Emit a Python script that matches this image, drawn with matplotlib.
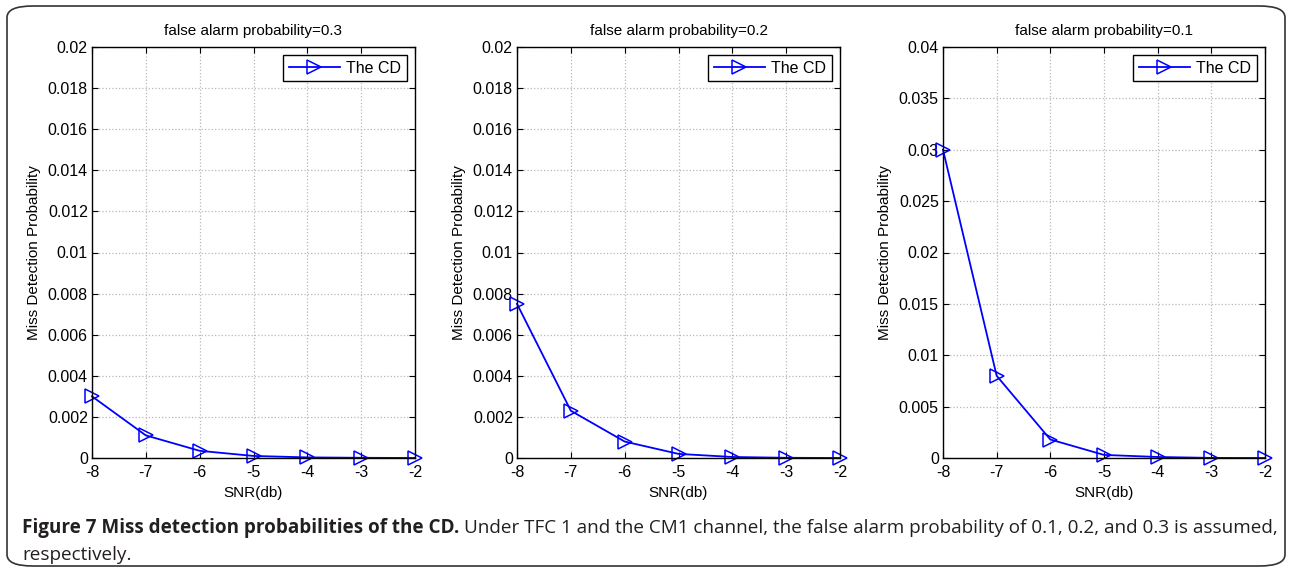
import numpy as np
import matplotlib.pyplot as plt
from matplotlib.patches import FancyBboxPatch

# data
snr = [-8, -7, -6, -5, -4, -3, -2]
pf_titles = ["false alarm probability=0.3",
             "false alarm probability=0.2",
             "false alarm probability=0.1"]
pm_03 = [0.0030, 0.0011, 0.00035, 0.0001, 0.00003, 0.00001, 0.0]
pm_02 = [0.0075, 0.0023, 0.0008, 0.0002, 0.00005, 0.00001, 0.0]
pm_01 = [0.0300, 0.0080, 0.0018, 0.0003, 0.0001, 0.00001, 0.0]
series = [pm_03, pm_02, pm_01]
ymax = [0.02, 0.02, 0.04]
ystep = [0.002, 0.002, 0.005]

plt.rcParams['font.family'] = ['Liberation Sans', 'DejaVu Sans']
plt.rcParams['axes.unicode_minus'] = False
fs = 11.5

W, H = 1291, 572
fig = plt.figure(figsize=(W / 100, H / 100), dpi=100)

# axes boxes in pixels (left, top, right, bottom)
boxes = [(92, 47, 415, 458), (517, 47, 840, 458), (943, 47, 1265, 458)]

for (l, t, r, b), y, title, ym, ys in zip(boxes, series, pf_titles, ymax, ystep):
    ax = fig.add_axes([l / W, 1 - b / H, (r - l) / W, (b - t) / H])
    ax.plot(snr, y, '-', color='blue', lw=1.3, marker='>', ms=10,
            mfc='none', mec='blue', mew=1.1, label='The CD', clip_on=False)
    ax.set_xlim(-8, -2)
    ax.set_ylim(0, ym)
    ax.set_xticks(snr)
    yt = np.arange(0, ym + ys / 2, ys)
    ax.set_yticks(yt)
    ax.set_yticklabels([('%g' % v) for v in yt])
    ax.grid(True, color='#b8b8b8', linestyle=':', linewidth=0.9)
    ax.tick_params(direction='in', top=True, right=True, length=4, width=0.8,
                   labelsize=fs)
    ax.tick_params(axis='x', pad=5)
    ax.tick_params(axis='y', pad=3)
    for s in ax.spines.values():
        s.set_linewidth(1.0)
    ax.set_title(title, fontsize=11, pad=9)
    ax.set_xlabel("SNR(db)", fontsize=11, labelpad=4)
    ax.set_ylabel("Miss Detection Probability", fontsize=11, labelpad=5)
    leg = ax.legend(loc='upper right', fancybox=False, framealpha=1,
                    edgecolor='black', borderpad=0.35, handlelength=3.2,
                    borderaxespad=0.5, fontsize=fs, handletextpad=0.4)
    leg.get_frame().set_linewidth(1.0)

# rounded frame around figure + caption
frame = FancyBboxPatch((7 / W, 1 - 566 / H), (1285 - 7) / W, (566 - 6) / H,
                       boxstyle="round,pad=0,rounding_size=0.02",
                       transform=fig.transFigure, fill=False,
                       edgecolor='#333333', linewidth=1.2)
fig.patches.append(frame)

cap_font = ['Open Sans', 'DejaVu Sans']
cfs = 13.55
t1 = fig.text(22 / W, 1 - 528 / H, "Figure 7 Miss detection probabilities of the CD.",
              fontsize=cfs, fontweight='bold', family=cap_font, color='#231f20',
              va='center', ha='left')
fig.canvas.draw()
bb = t1.get_window_extent()
fig.text((bb.x1 + 5) / W, 1 - 528 / H,
         "Under TFC 1 and the CM1 channel, the false alarm probability of 0.1, 0.2, and 0.3 is assumed,",
         fontsize=cfs, family=cap_font, color='#231f20', va='center', ha='left')
fig.text(22 / W, 1 - 555 / H, "respectively.", fontsize=cfs, family=cap_font,
         color='#231f20', va='center', ha='left')

fig.savefig('out.png', dpi=100)
